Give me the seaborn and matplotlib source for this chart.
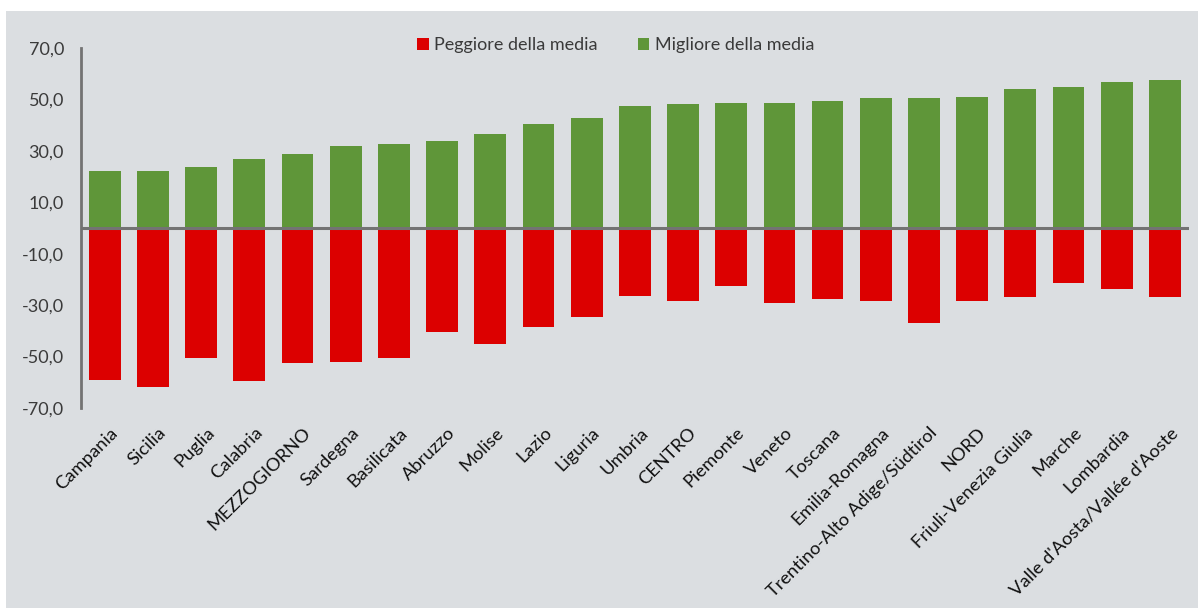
import matplotlib
matplotlib.use("Agg")
import matplotlib.pyplot as plt
import matplotlib.transforms as mtrans
import seaborn as sns
import pandas as pd
from matplotlib.patches import Rectangle, Patch

categories = ["Campania", "Sicilia", "Puglia", "Calabria", "MEZZOGIORNO", "Sardegna",
              "Basilicata", "Abruzzo", "Molise", "Lazio", "Liguria", "Umbria", "CENTRO",
              "Piemonte", "Veneto", "Toscana", "Emilia-Romagna", "Trentino-Alto Adige/Südtirol",
              "NORD", "Friuli-Venezia Giulia", "Marche", "Lombardia", "Valle d'Aosta/Vallée d'Aoste"]
migliore = [22.3, 22.3, 23.8, 26.7, 28.8, 31.9, 32.6, 33.8, 36.4, 40.5, 42.9, 47.6, 48.1,
            48.5, 48.5, 49.4, 50.4, 50.7, 51.1, 53.9, 55.0, 56.8, 57.6]
peggiore = [-59.1, -61.7, -50.4, -59.4, -52.4, -52.1, -50.4, -40.6, -45.1, -38.5, -34.6, -26.6,
            -28.5, -22.6, -29.0, -27.5, -28.5, -37.1, -28.5, -27.0, -21.5, -23.6, -26.7]
yticks = [70, 50, 30, 10, -10, -30, -50, -70]
series_names = ["Peggiore della media", "Migliore della media"]

RED = "#DC0000"
GREEN = "#5F9639"
BG = "#DBDEE1"
TXT = "#3A3A3A"
AX = "#737373"

sns.set_style("white")
plt.rcParams["font.family"] = ["Lato", "DejaVu Sans"]

df = pd.DataFrame({"cat": categories, "m": migliore, "p": peggiore})

fig = plt.figure(figsize=(11.98, 6.10), dpi=100, facecolor="white")
W, H = 1198, 610
fig.patches.append(Rectangle((6 / W, 2 / H), 1 - 6 / W, 1 - 13 / H, transform=fig.transFigure,
                             facecolor=BG, edgecolor="none", zorder=-10))
ax = fig.add_axes([80.7 / W, 1 - 408 / H, (1189 - 80.7) / W, (408 - 48) / H])
ax.set_facecolor("none")

sns.barplot(data=df, x="cat", y="m", order=categories, color=GREEN, width=0.66,
            saturation=1, ax=ax, zorder=2, linewidth=0)
sns.barplot(data=df, x="cat", y="p", order=categories, color=RED, width=0.66,
            saturation=1, ax=ax, zorder=2, linewidth=0)

ax.set_xlim(-0.5, len(categories) - 0.5)
ax.set_ylim(-70, 70)
ax.set_yticks(yticks)
ax.set_yticklabels([f"{v:.1f}".replace(".", ",") for v in yticks], color=TXT, fontsize=13)
ax.set_xlabel("")
ax.set_ylabel("")
ax.tick_params(axis="both", length=0)
ax.tick_params(axis="y", pad=12)
ax.tick_params(axis="x", pad=12)
shift = mtrans.ScaledTranslation(5 / 100, 0, fig.dpi_scale_trans)
for lab in ax.get_xticklabels():
    lab.set_rotation(45)
    lab.set_ha("right")
    lab.set_rotation_mode("anchor")
    lab.set_fontsize(13.2)
    lab.set_color("#111111")
    lab.set_transform(lab.get_transform() + shift)

for s in ["top", "right", "bottom"]:
    ax.spines[s].set_visible(False)
ax.spines["left"].set_color(AX)
ax.spines["left"].set_linewidth(2)
ax.axhline(0, color=AX, lw=2.2, zorder=3)

handles = [Patch(facecolor=RED, edgecolor="none"), Patch(facecolor=GREEN, edgecolor="none")]
fig.legend(handles, series_names, loc="center", bbox_to_anchor=(0.514, 1 - 45 / H), ncol=2,
           frameon=False, fontsize=13, handlelength=0.65, handleheight=0.65,
           handletextpad=0.3, columnspacing=2.2, labelcolor=TXT)

fig.savefig("out.png", dpi=100, facecolor="white")
